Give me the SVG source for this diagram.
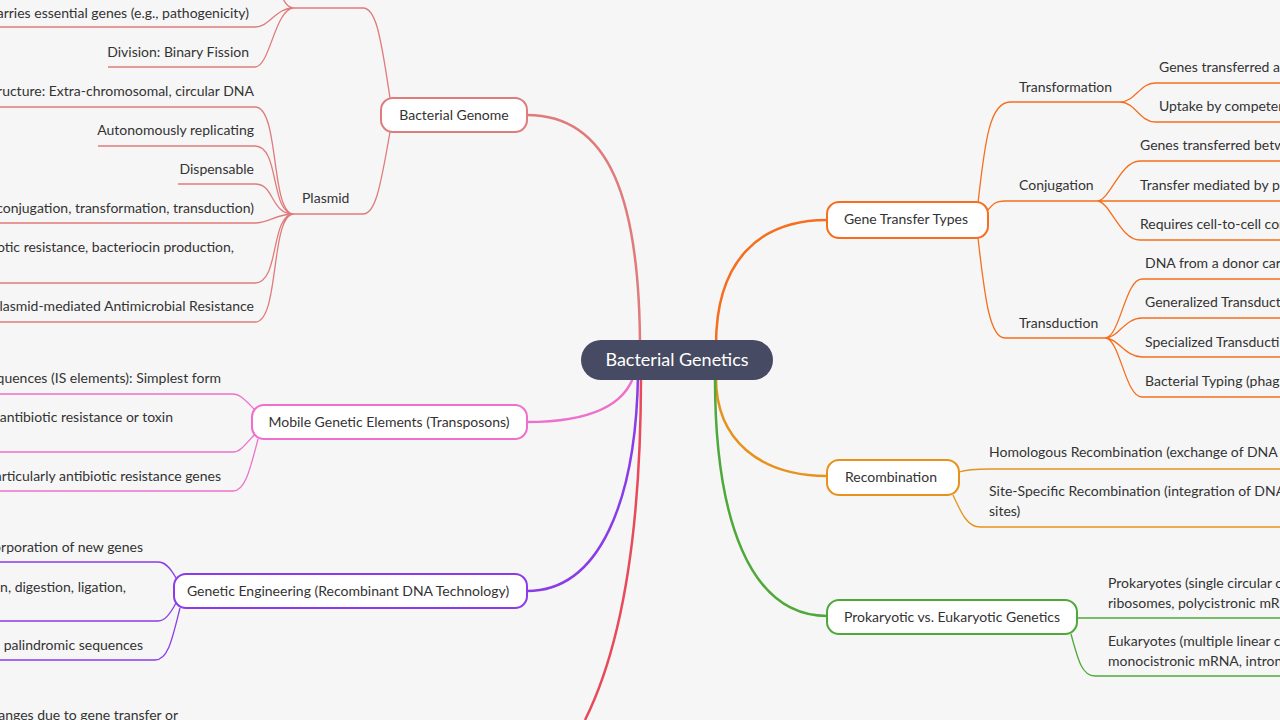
<svg xmlns="http://www.w3.org/2000/svg" width="1280" height="720" viewBox="0 0 1280 720">
<style>
text{font-family:Lato,"Liberation Sans",sans-serif;font-size:14px;fill:#333}
.e{text-anchor:end}
.c path{fill:none;stroke-width:1.3}
.box{fill:#fff;stroke-width:2}
.r{stroke:#e07b7b}.p{stroke:#ee6fcc}.v{stroke:#8a3ce8}.o{stroke:#f56f1e}.a{stroke:#e8921e}.g{stroke:#4fa83a}.d{stroke:#e84a5a}
</style>
<rect width="1280" height="720" fill="#f6f6f6"/>
<g class="c" id="connectors">
<path class="r" stroke-width="3" style="stroke-width:2.5" d="M640,350 C640,200 610,115 527,115"/>
<path class="p" style="stroke-width:2.5" d="M635,372 C625,410 580,422 527,422"/>
<path class="v" style="stroke-width:2.5" d="M638,375 C636,500 600,591 527,591"/>
<path class="d" style="stroke-width:2.5" d="M641,375 C641,540 620,650 585,720"/>
<path class="o" style="stroke-width:2.5" d="M716,345 C716,260 760,220 827,220"/>
<path class="a" style="stroke-width:2.5" d="M716,378 C716,440 760,476 827,476"/>
<path class="g" style="stroke-width:2.5" d="M715,378 C715,520 750,616 827,616"/>
<!-- bacterial genome -->
<path class="r" d="M390,98 C380,30 375,8 363,8 L294,8"/>
<path class="r" d="M390,132 C380,190 375,214 363,214 L294,214"/>
<path class="r" d="M294,8 C285,8 282,-5 278,-10 M294,8 C275,8 270,27 255,27 L-5,27 M294,8 C275,8 270,67 255,67 L108,67"/>
<path class="r" d="M294,214 C270,214 280,107 255,107 L-5,107 M294,214 C270,214 280,146 255,146 L98,146 M294,214 C270,214 275,184 255,184 L178,184 M294,214 C275,214 270,223 255,223 L-5,223 M294,214 C270,214 280,283 255,283 L-5,283 M294,214 C270,214 280,322 255,322 L-5,322"/>
<!-- mobile -->
<path class="p" d="M255,410 C245,400 240,394 233,394 L-5,394 M255,434 C245,445 240,452 233,452 L-5,452 M258,439 C250,470 245,491 233,491 L-5,491"/>
<!-- genetic eng -->
<path class="v" d="M176,578 C170,567 165,562 158,562 L-5,562 M176,603 C170,614 165,621 158,621 L-5,621 M180,608 C172,640 168,660 155,660 L-5,660"/>
<!-- gene transfer -->
<path class="o" d="M978,203 C985,140 990,102 1010,102 L1120,102 M988,210 C992,205 995,201 1005,201 L1097,201 M978,238 C985,300 990,338 1005,338 L1105,338"/>
<path class="o" d="M1120,102 C1135,102 1140,83 1155,83 L1285,83 M1120,102 C1135,102 1140,122 1155,122 L1285,122"/>
<path class="o" d="M1097,201 C1110,201 1120,161 1140,161 L1285,161 M1097,201 L1285,201 M1097,201 C1110,201 1120,240 1140,240 L1285,240"/>
<path class="o" d="M1105,338 C1120,338 1125,279 1142,279 L1285,279 M1105,338 C1118,338 1125,318 1142,318 L1285,318 M1105,338 C1118,338 1125,357 1142,357 L1285,357 M1105,338 C1120,338 1125,397 1142,397 L1285,397"/>
<!-- recombination -->
<path class="a" d="M959,472 C965,470 975,469 990,469 L1285,469 M953,495 C962,515 968,527 980,527 L1285,527"/>
<!-- prokaryotic -->
<path class="g" d="M1077,618 L1285,618 M1071,634 C1078,660 1082,676 1095,676 L1285,676"/>
</g>
<g id="center"><rect x="581" y="340" width="192" height="40" rx="20" fill="#474a63"/><text x="677" y="366" text-anchor="middle" style="font-size:18px;fill:#fff">Bacterial Genetics</text></g>
<g id="bacterial-genome"><rect class="box r" x="381" y="98" width="146" height="34" rx="12"/><text x="454" y="120" text-anchor="middle">Bacterial Genome</text></g>
<g id="chromosome-leaves"><text class="e" x="249" y="18">arries essential genes (e.g., pathogenicity)</text><text class="e" x="249" y="57">Division: Binary Fission</text></g>
<g id="plasmid"><text x="302" y="203">Plasmid</text></g>
<g id="plasmid-leaves">
<text class="e" x="254" y="96">tructure: Extra-chromosomal, circular DNA</text>
<text class="e" x="254" y="135">Autonomously replicating</text>
<text class="e" x="254" y="174">Dispensable</text>
<text class="e" x="254" y="213">conjugation, transformation, transduction)</text>
<text class="e" x="234" y="252">otic resistance, bacteriocin production,</text>
<text class="e" x="254" y="311">Plasmid-mediated Antimicrobial Resistance</text>
</g>
<g id="mobile"><rect class="box p" x="252" y="405" width="275" height="34" rx="12"/><text x="389" y="427" text-anchor="middle">Mobile Genetic Elements (Transposons)</text></g>
<g id="mobile-leaves">
<text class="e" x="221" y="383">quences (IS elements): Simplest form</text>
<text class="e" x="173" y="422">r antibiotic resistance or toxin</text>
<text class="e" x="221" y="481">articularly antibiotic resistance genes</text>
</g>
<g id="genetic-engineering"><rect class="box v" x="174" y="574" width="353" height="34" rx="12"/><text x="348" y="596" text-anchor="middle">Genetic Engineering (Recombinant DNA Technology)</text></g>
<g id="ge-leaves">
<text class="e" x="143" y="552">orporation of new genes</text>
<text class="e" x="126" y="592">n, digestion, ligation,</text>
<text class="e" x="143" y="650">e palindromic sequences</text>
</g>
<g id="bottom-leaf"><text class="e" x="178" y="720">hanges due to gene transfer or</text></g>
<g id="gene-transfer"><rect class="box o" x="827" y="202" width="161" height="36" rx="12"/><text x="906" y="224" text-anchor="middle">Gene Transfer Types</text></g>
<g id="transformation"><text x="1019" y="92">Transformation</text><text x="1159" y="72">Genes transferred as</text><text x="1159" y="111">Uptake by competen</text></g>
<g id="conjugation"><text x="1019" y="190">Conjugation</text><text x="1140" y="150">Genes transferred betw</text><text x="1140" y="190">Transfer mediated by pl</text><text x="1140" y="229">Requires cell-to-cell con</text></g>
<g id="transduction"><text x="1019" y="328">Transduction</text><text x="1145" y="268">DNA from a donor carri</text><text x="1145" y="307">Generalized Transduct</text><text x="1145" y="347">Specialized Transducti</text><text x="1145" y="386">Bacterial Typing (phag</text></g>
<g id="recombination"><rect class="box a" x="827" y="460" width="132" height="35" rx="12"/><text x="891" y="482" text-anchor="middle">Recombination</text><text x="989" y="457">Homologous Recombination (exchange of DNA b</text><text x="989" y="496">Site-Specific Recombination (integration of DNA r</text><text x="989" y="516">sites)</text></g>
<g id="prokaryotic"><rect class="box g" x="827" y="600" width="250" height="34" rx="12"/><text x="952" y="622" text-anchor="middle">Prokaryotic vs. Eukaryotic Genetics</text><text x="1108" y="588">Prokaryotes (single circular c</text><text x="1108" y="608">ribosomes, polycistronic mRI</text><text x="1108" y="646">Eukaryotes (multiple linear c</text><text x="1108" y="666">monocistronic mRNA, introns</text></g>
</svg>
